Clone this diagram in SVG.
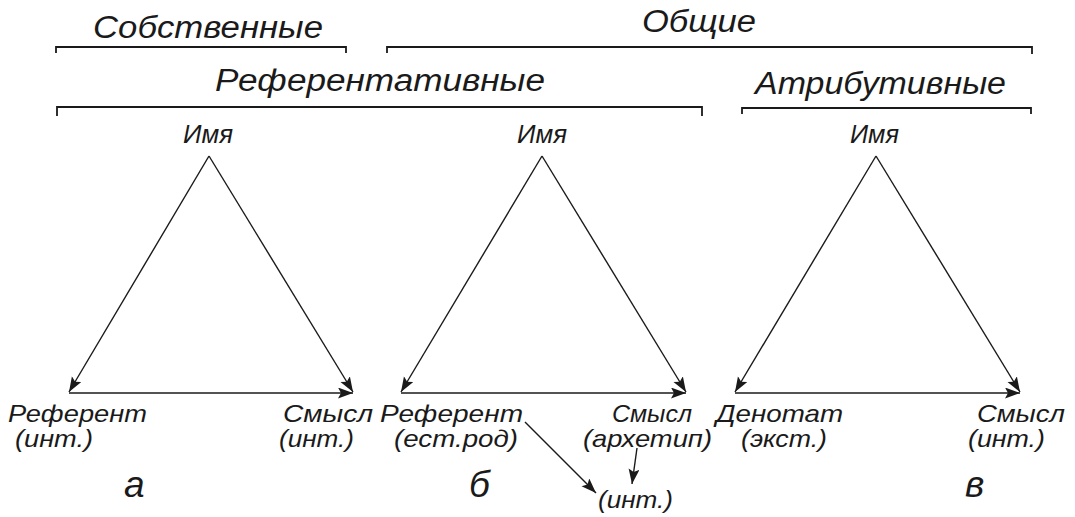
<svg xmlns="http://www.w3.org/2000/svg" width="1075" height="517" viewBox="0 0 1075 517">
<style>
text{font-family:"Liberation Sans",Arial,sans-serif;font-style:italic;fill:#1a1a1a}
.t{font-size:31px}
.n{font-size:25px}
.l{font-size:24px}
.g{font-size:37px}
.br{fill:none;stroke:#1a1a1a;stroke-width:1.8}
.c{fill:none;stroke:#1a1a1a;stroke-width:1.4;marker-end:url(#ah)}
</style>
<defs>
<marker id="ah" markerUnits="userSpaceOnUse" markerWidth="16" markerHeight="12" refX="15" refY="5.5" orient="auto">
<path d="M0,0 L15,5.5 L0,11 L3,5.5 Z" fill="#1a1a1a"/>
</marker>
</defs>
<g id="brackets">
<path class="br" d="M56,53 V47 H346 V53"/>
<path class="br" d="M387,53 V47 H1032 V54"/>
<path class="br" d="M57,116 V107 H702 V116"/>
<path class="br" d="M742,114 V108 H1031 V114"/>
</g>
<g id="titles">
<text id="sobst" class="t" x="93" y="38" textLength="230" lengthAdjust="spacingAndGlyphs">Собственные</text>
<text id="obsh" class="t" x="642" y="32" textLength="114" lengthAdjust="spacingAndGlyphs">Общие</text>
<text id="refer" class="t" x="215" y="91" textLength="330" lengthAdjust="spacingAndGlyphs">Референтативные</text>
<text id="attr" class="t" x="755" y="94" textLength="251" lengthAdjust="spacingAndGlyphs">Атрибутивные</text>
</g>
<g id="connectors">
<line class="c" x1="209" y1="156" x2="69" y2="392"/>
<line class="c" x1="209" y1="156" x2="353" y2="392"/>
<line class="c" x1="69" y1="393" x2="353" y2="393"/>
<line class="c" x1="542" y1="156" x2="401" y2="392"/>
<line class="c" x1="542" y1="156" x2="686" y2="392"/>
<line class="c" x1="401" y1="393" x2="686" y2="393"/>
<line class="c" x1="876" y1="156" x2="735" y2="392"/>
<line class="c" x1="876" y1="156" x2="1020" y2="392"/>
<line class="c" x1="735" y1="393" x2="1020" y2="393"/>
<line class="c" x1="525" y1="422" x2="596" y2="493"/>
<line class="c" x1="637" y1="448" x2="632" y2="484"/>
</g>
<g id="tri-a">
<text id="a-name" class="n" x="183" y="143" textLength="50" lengthAdjust="spacingAndGlyphs">Имя</text>
<g id="a-ref"><text class="l" x="8" y="422" textLength="139" lengthAdjust="spacingAndGlyphs">Референт</text><text class="l" x="15" y="447" textLength="78" lengthAdjust="spacingAndGlyphs">(инт.)</text></g>
<g id="a-sense"><text class="l" x="283" y="422" textLength="90" lengthAdjust="spacingAndGlyphs">Смысл</text><text class="l" x="279" y="447" textLength="75" lengthAdjust="spacingAndGlyphs">(инт.)</text></g>
<text id="a-label" class="g" x="124" y="497">а</text>
</g>
<g id="tri-b">
<text id="b-name" class="n" x="517" y="143" textLength="50" lengthAdjust="spacingAndGlyphs">Имя</text>
<g id="b-ref"><text class="l" x="380" y="422" textLength="143" lengthAdjust="spacingAndGlyphs">Референт</text><text class="l" x="394" y="447" textLength="124" lengthAdjust="spacingAndGlyphs">(ест.род)</text></g>
<g id="b-sense"><text class="l" x="612" y="422" textLength="80" lengthAdjust="spacingAndGlyphs">Смысл</text><text class="l" x="583" y="447" textLength="129" lengthAdjust="spacingAndGlyphs">(архетип)</text></g>
<text id="b-int" class="l" x="598" y="508" textLength="75" lengthAdjust="spacingAndGlyphs">(инт.)</text>
<text id="b-label" class="g" x="469" y="497">б</text>
</g>
<g id="tri-c">
<text id="c-name" class="n" x="850" y="143" textLength="49" lengthAdjust="spacingAndGlyphs">Имя</text>
<g id="c-den"><text class="l" x="716" y="422" textLength="127" lengthAdjust="spacingAndGlyphs">Денотат</text><text class="l" x="741" y="447" textLength="86" lengthAdjust="spacingAndGlyphs">(экст.)</text></g>
<g id="c-sense"><text class="l" x="977" y="422" textLength="88" lengthAdjust="spacingAndGlyphs">Смысл</text><text class="l" x="968" y="447" textLength="77" lengthAdjust="spacingAndGlyphs">(инт.)</text></g>
<text id="c-label" class="g" x="965" y="497">в</text>
</g>
</svg>
